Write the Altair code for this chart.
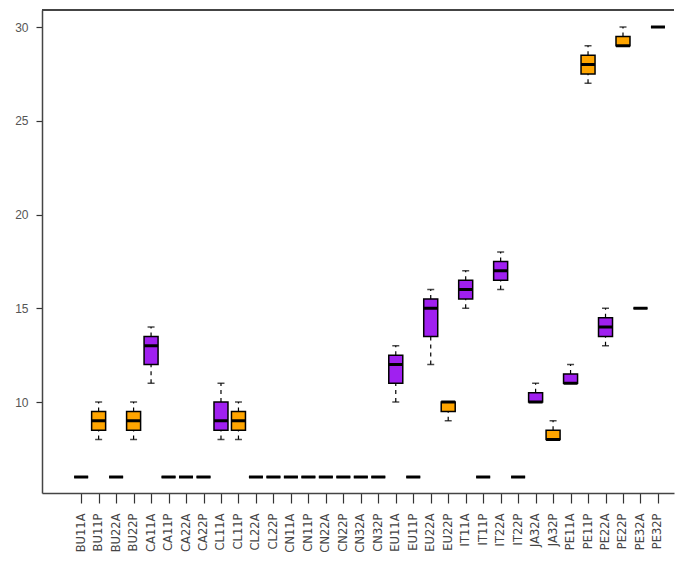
import altair as alt
import pandas as pd

categories = ["BU11A", "BU11P", "BU22A", "BU22P", "CA11A", "CA11P", "CA22A", "CA22P",
              "CL11A", "CL11P", "CL22A", "CL22P", "CN11A", "CN11P", "CN22A", "CN22P",
              "CN32A", "CN32P", "EU11A", "EU11P", "EU22A", "EU22P", "IT11A", "IT11P",
              "IT22A", "IT22P", "JA32A", "JA32P", "PE11A", "PE11P", "PE22A", "PE22P",
              "PE32A", "PE32P"]
mins    = [6, 8, 6, 8, 11, 6, 6, 6, 8, 8, 6, 6, 6, 6, 6, 6, 6, 6,
           10, 6, 12, 9, 15, 6, 16, 6, 10, 8, 11, 27, 13, 29, 15, 30]
q1s     = [6, 8.5, 6, 8.5, 12, 6, 6, 6, 8.5, 8.5, 6, 6, 6, 6, 6, 6, 6, 6,
           11, 6, 13.5, 9.5, 15.5, 6, 16.5, 6, 10, 8, 11, 27.5, 13.5, 29, 15, 30]
medians = [6, 9, 6, 9, 13, 6, 6, 6, 9, 9, 6, 6, 6, 6, 6, 6, 6, 6,
           12, 6, 15, 10, 16, 6, 17, 6, 10, 8, 11, 28, 14, 29, 15, 30]
q3s     = [6, 9.5, 6, 9.5, 13.5, 6, 6, 6, 10, 9.5, 6, 6, 6, 6, 6, 6, 6, 6,
           12.5, 6, 15.5, 10, 16.5, 6, 17.5, 6, 10.5, 8.5, 11.5, 28.5, 14.5, 29.5, 15, 30]
maxs    = [6, 10, 6, 10, 14, 6, 6, 6, 11, 10, 6, 6, 6, 6, 6, 6, 6, 6,
           13, 6, 16, 10, 17, 6, 18, 6, 11, 9, 12, 29, 15, 30, 15, 30]
y_ticks = [10, 15, 20, 25, 30]

df = pd.DataFrame({
    "cat": categories,
    "idx": list(range(1, len(categories) + 1)),
    "grp": [c[-1] for c in categories],
    "lo": mins, "q1": q1s, "med": medians, "q3": q3s, "hi": maxs,
})

W, H = 632, 483
xscale = alt.Scale(domain=[-0.954, 34.632], nice=False, zero=False)
yscale = alt.Scale(domain=[5.147, 30.907], nice=False, zero=False)

label_expr = "[" + ",".join("'" + c + "'" for c in categories) + "][datum.value - 1]"

xax = alt.Axis(values=list(range(1, len(categories) + 1)), labelExpr=label_expr,
               labelAngle=-90, title=None, grid=False, tickSize=10, labelPadding=10,
               labelFont="DejaVu Sans", labelFontSize=11.5, labelColor="#444",
               domainColor="#444", domainWidth=1.5, tickColor="#333", tickWidth=1.2)
yax = alt.Axis(values=y_ticks, title=None, grid=False, tickSize=6, labelPadding=8,
               labelFont="Liberation Sans", labelFontSize=12, labelColor="#555",
               domainColor="#444", domainWidth=1.5, tickColor="#333", tickWidth=1.2)

base = alt.Chart(df)
X = alt.X("idx:Q", scale=xscale, axis=xax)

upper = base.mark_rule(color="black", strokeWidth=1.2, strokeDash=[4, 4]).encode(
    x=X, y=alt.Y("q3:Q", scale=yscale, axis=yax), y2="hi:Q")
lower = base.mark_rule(color="black", strokeWidth=1.2, strokeDash=[4, 4]).encode(
    x=X, y=alt.Y("lo:Q", scale=yscale), y2="q1:Q")
cap_hi = base.mark_tick(orient="horizontal", size=7, thickness=1.5, color="black").encode(
    x=X, y=alt.Y("hi:Q", scale=yscale))
cap_lo = base.mark_tick(orient="horizontal", size=7, thickness=1.5, color="black").encode(
    x=X, y=alt.Y("lo:Q", scale=yscale))
box = base.mark_bar(size=14, stroke="black", strokeWidth=1.5, opacity=1).encode(
    x=X, y=alt.Y("q1:Q", scale=yscale), y2="q3:Q",
    color=alt.Color("grp:N", scale=alt.Scale(domain=["A", "P"], range=["#A020F0", "#FFA500"]),
                    legend=None))
med = base.mark_tick(orient="horizontal", size=14, thickness=3, color="black", opacity=1).encode(
    x=X, y=alt.Y("med:Q", scale=yscale))
top = alt.Chart(df).mark_rule(color="#444", strokeWidth=1.5).encode(
    x=alt.value(0), x2=alt.value(W), y=alt.value(0))

chart = alt.layer(upper, lower, cap_hi, cap_lo, box, med, top).properties(
    width=W, height=H,
    autosize=alt.AutoSizeParams(type="none"),
    padding={"left": 34, "top": 2, "right": 4, "bottom": 68},
).configure_view(stroke=None)

chart.save("out.html", embed_options={"renderer": "svg", "actions": False})
